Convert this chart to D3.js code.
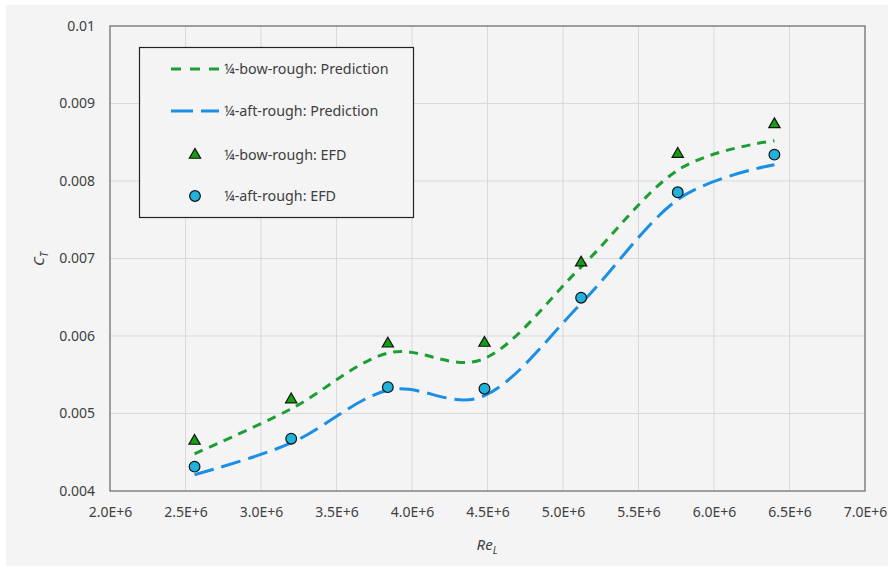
<!DOCTYPE html>
<html>
<head>
<meta charset="utf-8">
<script src="https://cdn.jsdelivr.net/npm/d3@7"></script>
<style>
  body { margin: 0; background: #fff; }
  text { font-family: "Noto Sans", sans-serif; fill: #404040; }
</style>
</head>
<body>
<svg id="chart" width="894" height="571"></svg>
<script>
var reL = [2.56e6, 3.2e6, 3.84e6, 4.48e6, 5.12e6, 5.76e6, 6.4e6];

// prediction curves (smoothed through the 7 Re values)
var bowPred = [0.00448, 0.00506, 0.00578, 0.00571, 0.00689, 0.00814, 0.00852],
    aftPred = [0.00421, 0.00462, 0.00530, 0.00523, 0.00642, 0.00776, 0.00821];

// experimental data
var bowEFD = [0.004645, 0.00518, 0.00590, 0.00591, 0.006946, 0.008348, 0.008731],
    aftEFD = [0.004314, 0.004675, 0.00534, 0.00532, 0.006494, 0.007854, 0.00834];

var xTicks = [2e6, 2.5e6, 3e6, 3.5e6, 4e6, 4.5e6, 5e6, 5.5e6, 6e6, 6.5e6, 7e6],
    yTicks = [0.004, 0.005, 0.006, 0.007, 0.008, 0.009, 0.01];

var legendLabels = ["\u00bc-bow-rough: Prediction", "\u00bc-aft-rough: Prediction",
                    "\u00bc-bow-rough: EFD", "\u00bc-aft-rough: EFD"];

var green = "#1d9e35", blue = "#1a8fe3", triFill = "#10a010", circFill = "#1fb2da";

var svg = d3.select("#chart"),
    margin = {top: 26, right: 29, bottom: 80, left: 110},
    width = 894 - margin.left - margin.right,
    height = 571 - margin.top - margin.bottom;

svg.append("rect").attr("x", 6).attr("y", 5).attr("width", 882).attr("height", 561)
    .attr("fill", "#f4f4f4");

var x = d3.scaleLinear().domain([2e6, 7e6]).range([0, width]),
    y = d3.scaleLinear().domain([0.004, 0.01]).range([height, 0]);

var g = svg.append("g").attr("transform", "translate(" + margin.left + "," + margin.top + ")");

// grid
g.append("g").selectAll("line").data(xTicks.slice(1, -1)).enter().append("line")
    .attr("x1", d => x(d)).attr("x2", d => x(d)).attr("y1", 0).attr("y2", height)
    .attr("stroke", "#d9d9d9").attr("stroke-width", 1);
g.append("g").selectAll("line").data(yTicks.slice(1, -1)).enter().append("line")
    .attr("y1", d => y(d)).attr("y2", d => y(d)).attr("x1", 0).attr("x2", width)
    .attr("stroke", "#d9d9d9").attr("stroke-width", 1);

// axes
var xAxis = g.append("g").attr("transform", "translate(0," + height + ")")
    .call(d3.axisBottom(x).tickValues(xTicks).tickSize(0).tickPadding(16)
      .tickFormat(d => (d / 1e6).toFixed(1) + "E+6"));
var yAxis = g.append("g")
    .call(d3.axisLeft(y).tickValues(yTicks).tickSize(0).tickPadding(15)
      .tickFormat(d => String(+d.toFixed(3))));
[xAxis, yAxis].forEach(function(a) {
  a.select(".domain").remove();
  a.selectAll("text").attr("font-size", 14).attr("fill", "#404040")
    .attr("font-family", "Noto Sans, sans-serif");
});

g.append("rect").attr("width", width).attr("height", height)
    .attr("fill", "none").attr("stroke", "#707070").attr("stroke-width", 1.3);

// prediction lines
var line = d3.line().x(d => x(d[0])).y(d => y(d[1])).curve(d3.curveCardinal.tension(0));

g.append("path").datum(reL.map((r, i) => [r, bowPred[i]])).attr("d", line)
    .attr("fill", "none").attr("stroke", green).attr("stroke-width", 3)
    .attr("stroke-dasharray", "9,7");
g.append("path").datum(reL.map((r, i) => [r, aftPred[i]])).attr("d", line)
    .attr("fill", "none").attr("stroke", blue).attr("stroke-width", 3)
    .attr("stroke-dasharray", "20,8");

var tri = d3.symbol().type(d3.symbolTriangle).size(55),
    circ = d3.symbol().type(d3.symbolCircle).size(90);

g.append("g").selectAll("path").data(reL.map((r, i) => [r, bowEFD[i]])).enter().append("path")
    .attr("d", tri).attr("transform", d => "translate(" + x(d[0]) + "," + y(d[1]) + ")")
    .attr("fill", triFill).attr("stroke", "#111").attr("stroke-width", 1.2);
g.append("g").selectAll("path").data(reL.map((r, i) => [r, aftEFD[i]])).enter().append("path")
    .attr("d", circ).attr("transform", d => "translate(" + x(d[0]) + "," + y(d[1]) + ")")
    .attr("fill", circFill).attr("stroke", "#111").attr("stroke-width", 1.2);

// axis titles
var yt = svg.append("text").attr("transform", "translate(44,259) rotate(-90)")
    .attr("text-anchor", "middle").attr("font-size", 15).attr("font-style", "italic");
yt.append("tspan").text("C");
yt.append("tspan").attr("font-size", 10).attr("dy", 4).text("T");

var xt = svg.append("text").attr("x", 487).attr("y", 550)
    .attr("text-anchor", "middle").attr("font-size", 15).attr("font-style", "italic");
xt.append("tspan").text("Re");
xt.append("tspan").attr("font-size", 10).attr("dy", 4).text("L");

// legend
var lg = svg.append("g");
lg.append("rect").attr("x", 139.5).attr("y", 47.5).attr("width", 274).attr("height", 170)
    .attr("fill", "#f4f4f4").attr("stroke", "#222").attr("stroke-width", 1.2);
var rows = [69, 111, 155, 196];
lg.append("line").attr("x1", 171).attr("x2", 219).attr("y1", rows[0]).attr("y2", rows[0])
    .attr("stroke", green).attr("stroke-width", 3).attr("stroke-dasharray", "10,9");
lg.append("line").attr("x1", 171).attr("x2", 219).attr("y1", rows[1]).attr("y2", rows[1])
    .attr("stroke", blue).attr("stroke-width", 3).attr("stroke-dasharray", "22,8");
lg.append("path").attr("d", tri).attr("transform", "translate(195," + rows[2] + ")")
    .attr("fill", triFill).attr("stroke", "#111").attr("stroke-width", 1.2);
lg.append("path").attr("d", circ).attr("transform", "translate(195," + rows[3] + ")")
    .attr("fill", circFill).attr("stroke", "#111").attr("stroke-width", 1.2);
lg.selectAll("text.lbl").data(legendLabels).enter().append("text").attr("class", "lbl")
    .attr("x", 224).attr("y", (d, i) => rows[i]).attr("dy", "0.35em")
    .attr("font-size", 14.3).attr("fill", "#333").text(d => d);
</script>
</body>
</html>
